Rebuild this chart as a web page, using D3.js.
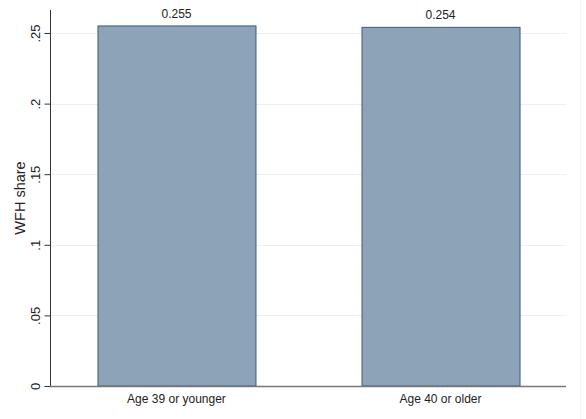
<!DOCTYPE html>
<html><head><meta charset="utf-8">
<script src="https://cdn.jsdelivr.net/npm/d3@7"></script>
<style>body{margin:0;background:#fff}svg{display:block}text{font-family:"Liberation Sans",Arial,sans-serif}</style>
</head><body>
<script>
const categories = ["Age 39 or younger", "Age 40 or older"];
const values = [0.255, 0.254];
const valueLabels = ["0.255", "0.254"];
const yTicks = [0, 0.05, 0.1, 0.15, 0.2, 0.25];
const yTickLabels = ["0", ".05", ".1", ".15", ".2", ".25"];

(function(){
const W = 586, H = 419;
const mLeft = 51, mRight = 566, mBottom = 386, mTop = 10;
const svg = d3.select("body").append("svg").attr("width", W).attr("height", H);

const y = d3.scaleLinear().domain([0, 0.25]).range([mBottom, 33]);
const x = d3.scaleBand().domain(categories).range([mLeft, mRight]).paddingInner(0.4015).paddingOuter(0.176);

// right faint border
svg.append("line").attr("x1", 580.5).attr("x2", 580.5).attr("y1", 0).attr("y2", H).attr("stroke", "#f3f4f5").attr("stroke-width", 1);

// grid
svg.append("g").selectAll("line").data(yTicks.slice(1)).join("line")
  .attr("x1", mLeft).attr("x2", mRight)
  .attr("y1", d => Math.round(y(d)) + 0.5).attr("y2", d => Math.round(y(d)) + 0.5)
  .attr("stroke", "#eaf0f4").attr("stroke-width", 1);

// bars
svg.append("g").selectAll("rect").data(values).join("rect")
  .attr("x", (d, i) => x(categories[i]) + 0.5)
  .attr("y", d => y(d))
  .attr("width", x.bandwidth())
  .attr("height", d => mBottom - y(d))
  .attr("fill", "#8ca3b8").attr("stroke", "#3c5d7c").attr("stroke-width", 1);

// value labels
svg.append("g").selectAll("text").data(values).join("text")
  .attr("x", (d, i) => x(categories[i]) + x.bandwidth() / 2)
  .attr("y", d => y(d) - 8)
  .attr("text-anchor", "middle").attr("font-size", 12).attr("fill", "#222")
  .text((d, i) => valueLabels[i]);

// y axis
const yAxis = d3.axisLeft(y).tickValues(yTicks).tickFormat((d, i) => yTickLabels[i]).tickSize(6).tickPadding(4);
const gy = svg.append("g").attr("transform", `translate(${mLeft - 0.5},0)`).call(yAxis);
gy.select(".domain").remove();
gy.selectAll(".tick line").attr("stroke", "#333");
gy.selectAll(".tick text")
  .attr("x", 0).attr("y", 0).attr("dy", null)
  .attr("text-anchor", "middle")
  .attr("font-size", 13).attr("fill", "#222")
  .attr("font-family", '"Liberation Sans",Arial,sans-serif')
  .attr("transform", "translate(-11,0) rotate(-90)");
svg.append("line").attr("x1", mLeft - 0.5).attr("x2", mLeft - 0.5).attr("y1", mTop).attr("y2", mBottom + 1)
  .attr("stroke", "#333").attr("stroke-width", 1);

// x axis line
svg.append("line").attr("x1", mLeft - 1).attr("x2", mRight).attr("y1", mBottom + 0.5).attr("y2", mBottom + 0.5)
  .attr("stroke", "#777").attr("stroke-width", 1.5);

// x labels
const gx = svg.append("g").attr("transform", `translate(0,${mBottom})`)
  .call(d3.axisBottom(x).tickSize(0).tickPadding(0));
gx.select(".domain").remove();
gx.selectAll(".tick text").attr("y", 17).attr("dy", null).attr("font-size", 12).attr("fill", "#222")
  .attr("font-family", '"Liberation Sans",Arial,sans-serif');

// y title
svg.append("text").attr("transform", "translate(25,198) rotate(-90)")
  .attr("text-anchor", "middle").attr("font-size", 14.5).attr("fill", "#222").text("WFH share");
})();
</script>
</body></html>
